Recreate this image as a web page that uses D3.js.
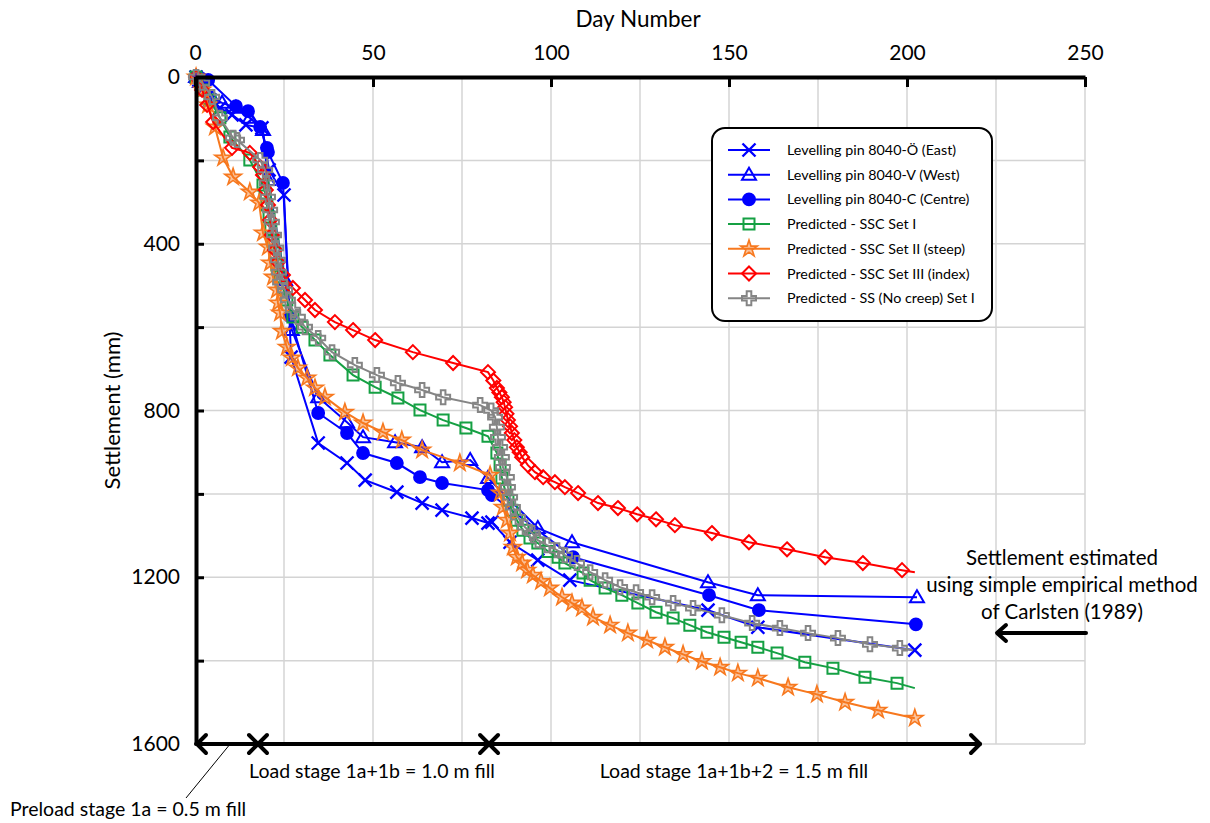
<!DOCTYPE html>
<html><head><meta charset="utf-8">
<script src="https://cdn.jsdelivr.net/npm/d3@7"></script>
<style>
html,body{margin:0;padding:0;background:#fff;}
svg{display:block;font-family:Lato,"Open Sans",sans-serif;}
</style></head>
<body>
<script>
// ---------- DATA ----------
const xTicks = [0, 50, 100, 150, 200, 250];
const yTicks = [0, 200, 400, 600, 800, 1000, 1200, 1400, 1600];
const yLabelTicks = [0, 400, 800, 1200, 1600];

const eastDay = [0.3,1.1,2,4.2,7,10.4,14.3,18.8,20.8,25,27,34.6,42.7,47.8,56.7,63.8,69.4,77.8,82.3,83.4,88.5,96.3,105.3,144.1,158.1,202.2];
const eastMm  = [0,7,26,55,74,91,115,122,223,283,672,878,926,967,996,1022,1039,1058,1070,1068,1116,1159,1207,1279,1320,1375];

const westDay = [0.3,1.4,2.8,4.8,7.6,11.5,15.4,19.1,20.5,25.3,27.2,34.6,42.7,47.2,56.2,63.8,69.4,77.3,82.3,96.3,105.9,144.1,158.1,202.8];
const westMm  = [0,12,31,50,62,74,98,127,247,487,607,768,828,864,876,888,924,919,962,1082,1116,1212,1243,1248];

const centreDay = [0.3,1.4,3.7,11.5,14.9,18.3,20.2,20.5,24.7,26.7,34.6,42.7,47.2,56.7,63.2,69.4,82.3,83.4,106.2,144.4,158.4,202.5];
const centreMm  = [0,2,7,70,82,120,170,180,254,574,806,854,902,926,960,974,991,1003,1152,1243,1279,1313];

const sscIDay = [0.3,2.2,4.2,7,9.8,15.4,19.1,19.7,20.2,20.8,21.3,21.9,22.5,23,23.9,24.7,25.8,27.5,30.1,33.7,37.9,44.4,50.6,57,63.2,69.7,76.1,82.3,84.8,85.7,86.2,87.1,87.9,89,90.4,92.1,94.1,96.3,99.2,102,103.9,109,111,115.2,119.9,124.4,129.5,134.3,139,143.8,148.6,153.4,158.1,163.5,171.3,179.2,188.2,197.2,202.2];
const sscIMm  = [0,31,55,98,144,199,259,278,307,336,365,394,422,451,480,506,535,576,600,631,667,715,744,770,799,823,842,862,902,931,962,991,1015,1039,1063,1087,1106,1118,1138,1152,1166,1190,1207,1226,1243,1262,1284,1298,1315,1332,1344,1356,1368,1382,1404,1418,1440,1454,1466];

const sscIIDay = [0.3,2,3.7,5.6,7.9,10.7,15.4,18,19.1,20.5,21.1,21.9,23,23.3,23.9,24.4,25.8,27.2,28.9,31.5,33.7,36.5,42.1,47.2,52.8,58.1,63.8,74.4,82.9,85.7,86.5,87.6,88.5,89.3,90.4,91.9,93.3,94.9,97.2,99.7,103.1,105.9,108.7,111.8,116.6,121.6,127,132,137.1,142.4,147.5,152.5,158.1,166.6,174.7,182.6,191.9,202.2];
const sscIIMm  = [0,31,67,120,194,240,276,302,374,408,446,480,511,542,566,610,648,674,698,722,746,768,804,830,852,871,895,926,955,998,1032,1063,1094,1128,1152,1166,1183,1195,1210,1226,1248,1262,1274,1296,1315,1334,1351,1368,1385,1402,1416,1430,1442,1464,1481,1500,1519,1538];

const sscIIIDay = [0.3,2,3.4,5.1,10.4,15.4,18.3,19.1,19.9,20.5,21.1,21.6,22.5,23.3,24.7,27.5,30.9,33.7,39.3,44.4,50.6,61.2,72.5,82.3,83.8,84.8,85.5,86.2,86.7,87.1,87.5,87.9,88.5,89,89.7,90.4,91.2,91.9,93.5,95.5,97.8,101.1,103.9,107.6,113.2,118.8,124.2,129.5,134.8,145.2,155.6,166.3,177,187.6,198.6,202.2];
const sscIIIMm  = [0,31,67,108,170,182,216,235,271,307,343,379,415,444,475,506,535,559,588,607,631,660,686,708,728,746,757,768,780,792,808,823,838,854,871,888,900,912,931,948,960,972,984,998,1022,1034,1049,1061,1075,1094,1116,1133,1152,1166,1183,1188];

const ssDay = [0.3,2,4.8,7,10.7,11.8,18.3,19.7,20.2,20.5,21.1,21.6,22.2,22.8,23.3,23.6,23.9,25.3,26.1,27.5,28.9,30.9,34.6,38.5,44.9,51.1,57,63.8,69.7,80.1,83.2,84.3,84.8,85.1,85.7,86.2,86.5,87.6,87.9,88.5,89.3,90.7,92.7,94.7,96.3,98.9,101.7,103.9,107.3,111,115.2,119.4,123.9,128.4,134.3,139.9,148,156.5,164.3,172.2,180.6,189.6,198,201.7];
const ssMm  = [0,14,48,98,146,151,199,223,254,288,319,348,379,410,439,468,492,511,535,559,576,600,626,660,691,715,734,751,768,787,800,816,840,864,888,912,936,960,984,1008,1032,1056,1080,1094,1111,1123,1135,1147,1166,1188,1207,1224,1236,1248,1262,1274,1291,1310,1322,1334,1346,1361,1370,1375];

const seriesNames = [
  "Levelling pin 8040-Ö (East)",
  "Levelling pin 8040-V (West)",
  "Levelling pin 8040-C (Centre)",
  "Predicted - SSC Set I",
  "Predicted - SSC Set II (steep)",
  "Predicted - SSC Set III (index)",
  "Predicted - SS (No creep) Set I"
];

const stageDays = [0, 17.7, 82.6, 220.5];
const stageLabels = ["Preload stage 1a = 0.5 m fill", "Load stage 1a+1b = 1.0 m fill", "Load stage 1a+1b+2 = 1.5 m fill"];
const noteLines = ["Settlement estimated", "using simple empirical method", "of Carlsten (1989)"];

// ---------- SETUP ----------
const W = 1210, H = 823;
const svg = d3.select("body").append("svg").attr("width", W).attr("height", H);
const x = d3.scaleLinear().domain([0, 250]).range([195, 1085]);
const y = d3.scaleLinear().domain([0, 1600]).range([77, 744]);

const zip = (a, b) => a.map((d, i) => [d, b[i]]);
const styles = [
  {data: zip(eastDay, eastMm), color: "#0000ff", marker: "x", lastMark: true},
  {data: zip(westDay, westMm), color: "#0000ff", marker: "tri", lastMark: true},
  {data: zip(centreDay, centreMm), color: "#0000ff", marker: "circle", lastMark: true},
  {data: zip(sscIDay, sscIMm), color: "#15a043", marker: "square", lastMark: false},
  {data: zip(sscIIDay, sscIIMm), color: "#f7781e", marker: "star", lastMark: true},
  {data: zip(sscIIIDay, sscIIIMm), color: "#ff0000", marker: "diamond", lastMark: false},
  {data: zip(ssDay, ssMm), color: "#858585", marker: "plus", lastMark: false}
];

function markerPath(type) {
  switch (type) {
    case "x": { const r = 6.5; return `M${-r},${-r}L${r},${r}M${-r},${r}L${r},${-r}`; }
    case "tri": return "M0,-7L7,5L-7,5Z";
    case "circle": return d3.symbol(d3.symbolCircle, 150)();
    case "square": return "M-5.5,-5.5H5.5V5.5H-5.5Z";
    case "star": return d3.symbol(d3.symbolStar, 85)();
    case "diamond": return "M0,-7L7,0L0,7L-7,0Z";
    case "plus": { const a = 2.3, b = 7; return `M${-a},${-b}H${a}V${-a}H${b}V${a}H${a}V${b}H${-a}V${a}H${-b}V${-a}H${-a}Z`; }
  }
}
function drawMarker(g, type, color) {
  const p = g.append("path").attr("d", markerPath(type)).attr("stroke", color).attr("stroke-width", type === "x" ? 2.4 : 2);
  if (type === "circle") p.attr("fill", color).attr("stroke", "none");
  else if (type === "star") p.attr("fill", color).attr("fill-opacity", 0.45).attr("stroke-width", 1.6);
  else p.attr("fill", "none");
}

// ---------- GRID ----------
const grid = svg.append("g");
grid.selectAll("line.v").data(d3.range(25, 251, 25)).join("line")
  .attr("x1", d => x(d)).attr("x2", d => x(d)).attr("y1", y(0)).attr("y2", y(1600))
  .attr("stroke", "#d4d4d4").attr("stroke-width", 1.5);
grid.selectAll("line.h").data(yTicks.slice(1)).join("line")
  .attr("x1", x(0)).attr("x2", x(250)).attr("y1", d => y(d)).attr("y2", d => y(d))
  .attr("stroke", "#d4d4d4").attr("stroke-width", 1.5);

// ---------- SERIES ----------
const line = d3.line().x(d => x(d[0])).y(d => y(d[1]));
styles.forEach(s => {
  const g = svg.append("g");
  g.append("path").attr("d", line(s.data)).attr("fill", "none").attr("stroke", s.color).attr("stroke-width", 2);
  const pts = s.lastMark ? s.data : s.data.slice(0, -1);
  pts.forEach(d => {
    const mg = g.append("g").attr("transform", `translate(${x(d[0])},${y(d[1])})`);
    drawMarker(mg, s.marker, s.color);
  });
});

// ---------- AXES ----------
const topAxis = svg.append("g").attr("transform", `translate(0,${y(0)})`)
  .call(d3.axisTop(x).tickValues(xTicks).tickSizeInner(-10).tickSizeOuter(0).tickPadding(17));
topAxis.select(".domain").attr("stroke-width", 4).attr("stroke", "#000");
topAxis.selectAll(".tick line").attr("stroke-width", 3).attr("stroke", "#000");
topAxis.selectAll(".tick text").attr("font-size", 21).attr("font-family", "Lato").attr("fill", "#000");

const leftAxis = svg.append("g").attr("transform", `translate(${x(0) + 1},0)`)
  .call(d3.axisLeft(y).tickValues(yTicks).tickSizeInner(-8).tickSizeOuter(0).tickPadding(16)
    .tickFormat(d => yLabelTicks.includes(d) ? d : ""));
leftAxis.select(".domain").attr("stroke-width", 4).attr("stroke", "#000");
leftAxis.selectAll(".tick line").attr("stroke-width", 3).attr("stroke", "#000");
leftAxis.selectAll(".tick text").attr("font-size", 21).attr("font-family", "Lato").attr("fill", "#000");

svg.append("text").attr("x", 638).attr("y", 27).attr("text-anchor", "middle")
  .attr("font-size", 22.5).text("Day Number");
svg.append("text").attr("transform", `translate(120,${(y(0) + y(1600)) / 2}) rotate(-90)`)
  .attr("text-anchor", "middle").attr("font-size", 22).text("Settlement (mm)");

// ---------- STAGE ARROWS ----------
const ay = y(1600);
const stageG = svg.append("g").attr("stroke", "#000").attr("stroke-width", 4).attr("fill", "none")
  .attr("stroke-linecap", "round").attr("stroke-linejoin", "round");
stageG.append("line").attr("x1", x(stageDays[0]) + 1).attr("x2", x(stageDays[3])).attr("y1", ay).attr("y2", ay);
function head(px, dir) { // dir = -1 points left, +1 points right
  const s = 9;
  stageG.append("path").attr("d", `M${px - dir * s},${ay - s}L${px},${ay}L${px - dir * s},${ay + s}`);
}
for (let i = 0; i < 3; i++) {
  const a = x(stageDays[i]) + (i === 0 ? 2 : 0), b = x(stageDays[i + 1]);
  head(a, -1); head(b, 1);
}
svg.append("text").attr("x", 372).attr("y", 778).attr("text-anchor", "middle")
  .attr("font-size", 19.5).text(stageLabels[1]);
svg.append("text").attr("x", 734).attr("y", 778).attr("text-anchor", "middle")
  .attr("font-size", 19.5).text(stageLabels[2]);
svg.append("text").attr("x", 10).attr("y", 816).attr("font-size", 19.5).text(stageLabels[0]);
svg.append("line").attr("x1", x((stageDays[0] + stageDays[1]) / 2) + 2).attr("y1", ay + 2).attr("x2", 186).attr("y2", 798)
  .attr("stroke", "#000").attr("stroke-width", 1);

// ---------- NOTE ----------
noteLines.forEach((t, i) => {
  svg.append("text").attr("x", 1062).attr("y", 565 + i * 27).attr("text-anchor", "middle")
    .attr("font-size", 20.5).text(t);
});
svg.append("line").attr("x1", 1086).attr("x2", 998).attr("y1", 633).attr("y2", 633)
  .attr("stroke", "#000").attr("stroke-width", 4).attr("stroke-linecap", "round");
svg.append("path").attr("d", "M1006,625L997,633L1006,641").attr("fill", "none")
  .attr("stroke", "#000").attr("stroke-width", 4).attr("stroke-linecap", "round").attr("stroke-linejoin", "round");

// ---------- LEGEND ----------
const lg = svg.append("g");
lg.append("rect").attr("x", 712).attr("y", 128).attr("width", 280).attr("height", 193).attr("rx", 13)
  .attr("fill", "#fff").attr("stroke", "#000").attr("stroke-width", 2);
seriesNames.forEach((name, i) => {
  const ry = 150 + i * 24.7;
  const s = styles[i];
  lg.append("line").attr("x1", 728).attr("x2", 770).attr("y1", ry).attr("y2", ry)
    .attr("stroke", s.color).attr("stroke-width", 2);
  drawMarker(lg.append("g").attr("transform", `translate(749,${ry})`), s.marker, s.color);
  lg.append("text").attr("x", 787).attr("y", ry + 5).attr("font-size", 14.3).text(name);
});
</script>
</body></html>
